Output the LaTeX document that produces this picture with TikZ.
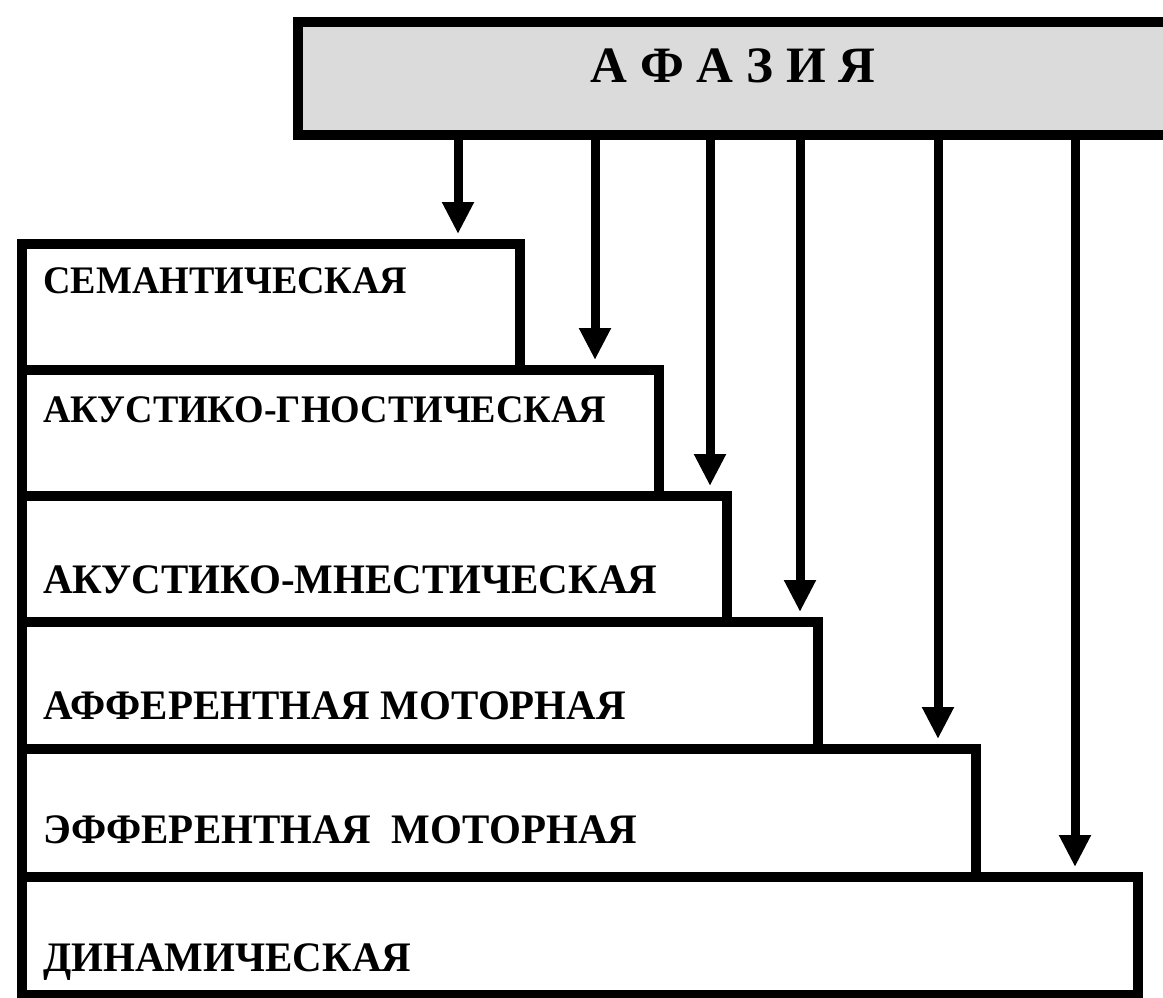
\documentclass[tikz,border=0pt]{standalone}
\usepackage{fontspec}
\setmainfont{Liberation Serif}
\newfontfamily\labfont[FakeStretch=0.975]{Liberation Serif}
\usetikzlibrary{arrows.meta}
\tikzset{
  stair/.style={draw, line width=5pt, fill=white, inner sep=0pt, anchor=north west},
  topbox/.style={draw, line width=5pt, fill=black!14, inner sep=0pt, anchor=north west},
  lab/.style={anchor=base west, inner sep=0pt, font=\labfont\bfseries\fontsize{19.5}{20}\selectfont},
  labbig/.style={lab, font=\labfont\bfseries\fontsize{21}{22}\selectfont},
  arr/.style={line width=4.5pt, -{Triangle[width=15pt,length=16pt]}, shorten >=2.5pt}
}
\begin{document}
\begin{tikzpicture}[x=0.5pt,y=-0.5pt]
\useasboundingbox (0,0) rectangle (1163,997);
\node[topbox, minimum width=445pt, minimum height=56.5pt] (afasia) at (293,17) {};
\node[anchor=base, inner sep=0pt, font=\bfseries\fontsize{25.5}{27}\selectfont] (afasiatext) at (733,82) {А Ф А З И Я};
\node[stair, minimum width=249pt, minimum height=63pt] (s1) at (17,239) {};
\node[stair, minimum width=318.5pt, minimum height=63pt] (s2) at (17,365) {};
\node[stair, minimum width=352.5pt, minimum height=63pt] (s3) at (17,491) {};
\node[stair, minimum width=398pt, minimum height=63.5pt] (s4) at (17,617) {};
\node[stair, minimum width=477pt, minimum height=64pt] (s5) at (17,744) {};
\node[stair, minimum width=558pt, minimum height=59pt] (s6) at (17,872) {};
\node[lab] (t1) at (43,293) {СЕМАНТИЧЕСКАЯ};
\node[lab] (t2) at (43,422) {АКУСТИКО-ГНОСТИЧЕСКАЯ};
\node[labbig] (t3) at (43,593) {АКУСТИКО-МНЕСТИЧЕСКАЯ};
\node[labbig] (t4) at (43,719) {АФФЕРЕНТНАЯ МОТОРНАЯ};
\node[labbig] (t5) at (43,843) {ЭФФЕРЕНТНАЯ\ \ МОТОРНАЯ};
\node[labbig] (t6) at (43,971) {ДИНАМИЧЕСКАЯ};
\draw[arr] (458,0 |- afasia.south) -- (458,0 |- s1.north);
\draw[arr] (595,0 |- afasia.south) -- (595,0 |- s2.north);
\draw[arr] (710,0 |- afasia.south) -- (710,0 |- s3.north);
\draw[arr] (800,0 |- afasia.south) -- (800,0 |- s4.north);
\draw[arr] (938,0 |- afasia.south) -- (938,0 |- s5.north);
\draw[arr] (1075,0 |- afasia.south) -- (1075,0 |- s6.north);
\end{tikzpicture}
\end{document}
